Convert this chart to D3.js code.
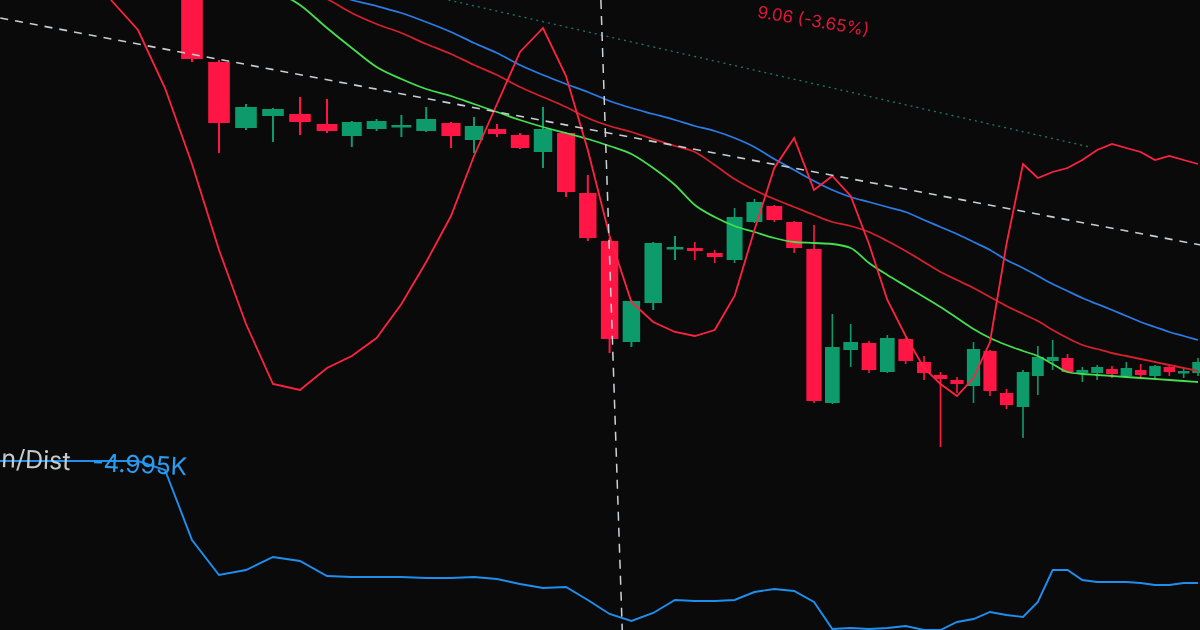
<!DOCTYPE html>
<html><head><meta charset="utf-8">
<script src="https://cdn.jsdelivr.net/npm/d3@7"></script>
<style>html,body{margin:0;padding:0;background:#0a0a0b;overflow:hidden}svg{display:block}</style>
</head><body>
<svg id="c" width="1200" height="630"></svg>
<script>
// ---------- DATA ----------
const opens  = [2030,1938,1872,1884,1886,1876,1864,1871,1873,1869,1877,1860,1871,1865,1848,1867,1807,1759,1658,1697,1752,1752,1747,1740,1778,1794,
                1778,1751,1597,1650,1657,1628,1661,1638,1625,1620,1614,1649,1607,1593,1624,1639,1642,1627,1627,1631,1624,1630,1624,1633,1627,1627];
const highs  = [2040,1940,1896,1892,1903,1901,1879,1881,1885,1893,1878,1883,1876,1867,1893,1868,1825,1762,1700,1758,1764,1758,1750,1792,1801,1795,
                1779,1775,1686,1676,1659,1665,1662,1644,1628,1623,1658,1650,1611,1630,1654,1660,1646,1633,1635,1634,1638,1636,1635,1634,1632,1642];
const lows   = [1938,1847,1870,1858,1865,1867,1853,1869,1863,1868,1852,1847,1863,1851,1832,1803,1759,1647,1653,1690,1740,1740,1737,1737,1777,1778,
                1747,1597,1596,1633,1627,1627,1636,1620,1553,1607,1597,1604,1591,1562,1605,1630,1627,1618,1620,1622,1623,1623,1622,1624,1622,1624];
const closes = [1941,1877,1893,1891,1878,1869,1878,1879,1875,1881,1864,1874,1866,1852,1871,1808,1762,1661,1699,1757,1753,1749,1743,1783,1798,1780,
                1752,1599,1653,1658,1630,1662,1639,1627,1621,1616,1651,1609,1595,1628,1643,1643,1628,1630,1633,1626,1632,1625,1634,1628,1629,1638];

// moving averages, aligned with the candles (null = above the visible area)
const maFast = [null,null,null,2010,1995,1972,1952,1933,1921,1911,1904,1896,1888,1880,1873,1867,1861,1854,1846,1832,1815,1795,1783,1774,1768,1762,
                1758,1757,1756,1752,1737,1725,1714,1703,1693,1682,1671,1662,1655,1649,1644,1636,1628,1626,1625,1624,1623,1622,1621,1620,1619,1618];
const maMid  = [null,null,null,null,2012,2001,1987,1976,1967,1956,1946,1935,1925,1913,1903,1893,1882,1874,1868,1861,1854,1848,1835,1821,1810,1801,
                1793,1785,1778,1774,1768,1759,1749,1738,1728,1720,1712,1703,1694,1686,1679,1670,1662,1655,1651,1647,1644,1641,1638,1635,1632,1629];
const maSlow = [null,null,null,null,null,2008,2000,1994,1987,1978,1968,1957,1947,1935,1925,1916,1908,1899,1892,1886,1880,1874,1869,1862,1853,1841,
                1830,1819,1810,1803,1798,1793,1788,1780,1773,1766,1758,1750,1740,1732,1724,1716,1709,1702,1696,1690,1684,1678,1673,1668,1664,1660];

// oscillator (0-100), first value belongs to bar -3
const oscFirstBar = -3;
const oscValues = [100,92.5,78,59,37.5,19,4,2.5,8,11,15.5,24,34.5,46,61,74,87,93,81,62.5,41,24.5,19.5,17,16,17.5,26,42.5,58,65.5,
                   52.5,56,51,39,25,16,8,4,1,5.5,14.5,39,59,55.5,57,58,60,62.5,64,63,62,60,61,60,59];

// Accumulation/Distribution, first value belongs to bar -8
const adFirstBar = -8;
const adValues = [-4995,-4995,-4995,-4995,-4995,-4995,-4995,-5085,-5785,-6135,-6085,-5955,-5995,-6145,-6155,-6155,-6155,-6165,-6165,-6155,
                  -6175,-6225,-6265,-6255,-6385,-6525,-6595,-6515,-6385,-6395,-6395,-6385,-6305,-6275,-6295,-6405,-6675,-6665,-6675,-6665,
                  -6645,-6685,-6685,-6605,-6575,-6505,-6535,-6555,-6405,-6085,-6085,-6185,-6205,-6205,-6205,-6215,-6235,-6235,-6215,-6215];

// drawn lines: [barIndex, price]
const trendLine  = [[-7.1, 1982], [51.2, 1755]];
const dottedLine = [[9.9, 2000], [43.5, 1853]];
const crosshairBars = [16.6, 17.58];   // slanted by the photo's perspective

const headerText = "9.06 (-3.65%)";
const adName = "n/Dist";
const adLabel = "-4.995K";

// ---------- SCALES ----------
const W = 1200, H = 630;
const svg = d3.select("#c");
svg.append("rect").attr("width", W).attr("height", H).attr("fill", "#0a0a0b");
const defs = svg.append("defs");
defs.append("filter").attr("id", "soft").attr("x", "-5%").attr("y", "-5%").attr("width", "110%").attr("height", "110%")
  .append("feGaussianBlur").attr("stdDeviation", 0.45);
const root = svg.append("g").attr("filter", "url(#soft)");

// perspective: bars get closer towards the right
const x = d3.scaleLinear()
  .domain([0, 5, 10, 15, 20, 27, 33, 39, 45, 51])
  .range([192, 327, 451, 566, 675, 814, 924, 1023, 1112, 1198]);
const y = d3.scaleLinear().domain([1540, 2000]).range([460, 0]);
const yOsc = d3.scaleLinear().domain([0, 100]).range([400, 0]);
const yAd = d3.scaleLinear().domain([-6685, -4885]).range([630, 450]);

const bars = opens.map((o, i) => ({ i, o, h: highs[i], l: lows[i], c: closes[i] }));
const UP = "#0e9b6c", DOWN = "#ff1744";

// ---------- CANDLES ----------
const gC = root.append("g");
bars.forEach(b => {
  const step = x(b.i + 0.5) - x(b.i - 0.5);
  const w = step * 0.8;
  const col = b.c >= b.o ? UP : DOWN;
  const cx = x(b.i);
  gC.append("line").attr("x1", cx).attr("x2", cx).attr("y1", y(b.h)).attr("y2", y(b.l))
    .attr("stroke", col).attr("stroke-width", step > 20 ? 2 : 1.6);
  const top = y(Math.max(b.o, b.c)), bot = y(Math.min(b.o, b.c));
  gC.append("rect").attr("x", cx - w / 2).attr("width", w)
    .attr("y", top).attr("height", Math.max(bot - top, 2.5)).attr("fill", col);
});

// ---------- MOVING AVERAGES ----------
const maLine = d3.line().defined(d => d != null).x((d, i) => x(i)).y(d => y(d)).curve(d3.curveMonotoneX);
[[maSlow, "#2a7be4"], [maMid, "#d4202c"], [maFast, "#45de4f"]].forEach(([arr, col]) => {
  root.append("path").attr("d", maLine(arr)).attr("fill", "none").attr("stroke", col).attr("stroke-width", 1.8);
});

// ---------- OSCILLATOR ----------
const oscLine = d3.line().x((d, i) => x(i + oscFirstBar)).y(d => yOsc(d));
root.append("path").attr("d", oscLine(oscValues)).attr("fill", "none")
  .attr("stroke", "#ff2340").attr("stroke-width", 1.8).attr("stroke-linejoin", "miter");

// ---------- TREND LINES ----------
const tl = d3.line().x(d => x(d[0])).y(d => y(d[1]));
root.append("path").attr("d", tl(dottedLine)).attr("fill", "none")
  .attr("stroke", "#1d7a64").attr("stroke-width", 1.3).attr("stroke-dasharray", "2,4");
root.append("path").attr("d", tl(trendLine)).attr("fill", "none")
  .attr("stroke", "#c8cdd2").attr("stroke-width", 1.6).attr("stroke-dasharray", "8,7");

// ---------- A/D PANEL ----------
const adLine = d3.line().x((d, i) => x(i + adFirstBar)).y(d => yAd(d));
root.append("path").attr("d", adLine(adValues)).attr("fill", "none")
  .attr("stroke", "#1f8fef").attr("stroke-width", 1.9);

// ---------- CROSSHAIR ----------
root.append("line").attr("x1", x(crosshairBars[0])).attr("y1", 0)
  .attr("x2", x(crosshairBars[1])).attr("y2", H)
  .attr("stroke", "#cdd2d6").attr("stroke-width", 1.5).attr("stroke-dasharray", "9,7");

// ---------- TEXT ----------
root.append("text").attr("transform", "translate(868,36) rotate(9.5)")
  .attr("text-anchor", "end").attr("font-family", "Inter, Roboto, sans-serif")
  .attr("font-size", 17).attr("fill", "#e0183a").text(headerText);

const lab = root.append("g").attr("transform", "translate(1,467) rotate(2.5)");
lab.append("text").attr("font-family", "Inter, Roboto, sans-serif")
  .attr("font-size", 25).attr("fill", "#c5cacf").text(adName);
lab.append("text").attr("x", 91).attr("font-family", "Inter, Roboto, sans-serif")
  .attr("font-size", 24.5).attr("fill", "#2b9df0").text(adLabel);
</script>
</body></html>
